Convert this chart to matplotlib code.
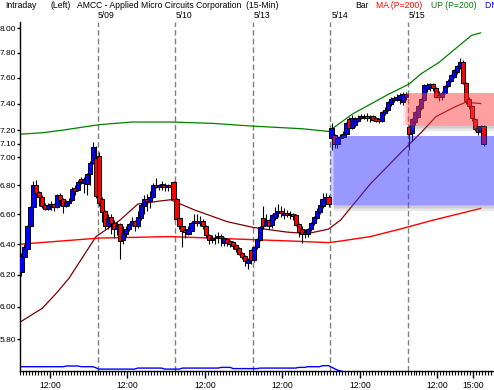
import numpy as np
import matplotlib
matplotlib.use("Agg")
import matplotlib.pyplot as plt
from matplotlib.patches import Rectangle
from matplotlib.ticker import FixedLocator, NullLocator, FixedFormatter

plt.rcParams['font.family'] = ['Liberation Sans', 'DejaVu Sans']

# 15-min bars, 26 per session, six sessions (5/08 .. 5/15)
opens = [
    6.22, 6.32, 6.37, 6.52, 6.65, 6.80, 6.75, 6.72, 6.66, 6.64, 6.66, 6.67, 6.65,
    6.73, 6.70, 6.66, 6.68, 6.70, 6.78, 6.77, 6.84, 6.82, 6.81, 6.88, 6.96, 6.99,
    7.01, 6.70, 6.62, 6.52, 6.58, 6.54, 6.50, 6.53, 6.43, 6.47, 6.50, 6.53, 6.55,
    6.52, 6.58, 6.66, 6.70, 6.69, 6.72, 6.80, 6.79, 6.80, 6.80, 6.79, 6.80, 6.82,
    6.70, 6.57, 6.52, 6.49, 6.47, 6.49, 6.54, 6.55, 6.54, 6.55, 6.52, 6.46, 6.43,
    6.44, 6.44, 6.45, 6.41, 6.43, 6.42, 6.41, 6.39, 6.37, 6.34, 6.32, 6.28, 6.36,
    6.30, 6.38, 6.43, 6.57, 6.53, 6.56, 6.53, 6.58, 6.61, 6.62, 6.60, 6.61, 6.60,
    6.60, 6.59, 6.53, 6.50, 6.47, 6.47, 6.50, 6.54, 6.58, 6.62, 6.66, 6.69, 6.72,
    7.14, 7.16, 7.10, 7.14, 7.15, 7.17, 7.28, 7.22, 7.24, 7.27, 7.29, 7.30, 7.30,
    7.29, 7.30, 7.29, 7.28, 7.27, 7.33, 7.35, 7.40, 7.43, 7.43, 7.44, 7.41, 7.45,
    7.22, 7.18, 7.26, 7.30, 7.37, 7.43, 7.51, 7.53, 7.55, 7.52, 7.46, 7.45, 7.48,
    7.54, 7.58, 7.61, 7.65, 7.68, 7.72, 7.56, 7.43, 7.38, 7.28, 7.21, 7.19, 7.23,
]
highs = [
    6.34, 6.40, 6.53, 6.66, 6.83, 6.84, 6.76, 6.73, 6.68, 6.68, 6.69, 6.68, 6.74,
    6.75, 6.71, 6.70, 6.71, 6.79, 6.80, 6.84, 6.86, 6.86, 6.89, 6.97, 7.11, 7.08,
    7.04, 6.72, 6.63, 6.60, 6.60, 6.56, 6.55, 6.54, 6.52, 6.52, 6.54, 6.58, 6.56,
    6.62, 6.68, 6.73, 6.74, 6.76, 6.82, 6.85, 6.81, 6.83, 6.82, 6.81, 6.81, 6.83,
    6.71, 6.58, 6.53, 6.51, 6.52, 6.55, 6.60, 6.60, 6.59, 6.57, 6.53, 6.47, 6.46,
    6.47, 6.48, 6.47, 6.45, 6.44, 6.43, 6.42, 6.40, 6.38, 6.35, 6.33, 6.31, 6.37,
    6.39, 6.44, 6.52, 6.66, 6.60, 6.57, 6.60, 6.65, 6.67, 6.66, 6.64, 6.63, 6.62,
    6.61, 6.60, 6.54, 6.52, 6.50, 6.51, 6.55, 6.59, 6.64, 6.68, 6.75, 6.75, 6.73,
    7.25, 7.17, 7.16, 7.17, 7.19, 7.26, 7.30, 7.31, 7.30, 7.31, 7.32, 7.32, 7.33,
    7.31, 7.31, 7.30, 7.29, 7.34, 7.37, 7.42, 7.45, 7.46, 7.47, 7.48, 7.49, 7.49,
    7.24, 7.29, 7.34, 7.39, 7.44, 7.55, 7.56, 7.56, 7.56, 7.53, 7.50, 7.50, 7.54,
    7.59, 7.63, 7.67, 7.70, 7.76, 7.74, 7.57, 7.45, 7.39, 7.29, 7.23, 7.24, 7.24,
]
lows = [
    6.19, 6.31, 6.36, 6.51, 6.62, 6.72, 6.66, 6.64, 6.63, 6.63, 6.63, 6.62, 6.64,
    6.66, 6.61, 6.65, 6.66, 6.69, 6.73, 6.76, 6.81, 6.75, 6.73, 6.80, 6.95, 6.71,
    6.66, 6.55, 6.50, 6.50, 6.47, 6.44, 6.46, 6.30, 6.40, 6.45, 6.49, 6.52, 6.49,
    6.51, 6.56, 6.60, 6.62, 6.64, 6.71, 6.78, 6.77, 6.77, 6.76, 6.76, 6.76, 6.70,
    6.56, 6.50, 6.38, 6.44, 6.46, 6.48, 6.52, 6.52, 6.52, 6.50, 6.44, 6.40, 6.41,
    6.40, 6.41, 6.39, 6.39, 6.39, 6.38, 6.37, 6.35, 6.33, 6.30, 6.26, 6.24, 6.27,
    6.28, 6.37, 6.42, 6.50, 6.52, 6.50, 6.51, 6.56, 6.58, 6.58, 6.57, 6.58, 6.57,
    6.56, 6.52, 6.45, 6.41, 6.44, 6.45, 6.49, 6.53, 6.57, 6.60, 6.64, 6.67, 6.65,
    7.05, 7.07, 7.07, 7.12, 7.14, 7.16, 7.20, 7.21, 7.22, 7.26, 7.28, 7.28, 7.27,
    7.26, 7.27, 7.26, 7.25, 7.26, 7.31, 7.34, 7.38, 7.41, 7.42, 7.40, 7.39, 7.43,
    7.05, 7.12, 7.24, 7.29, 7.35, 7.42, 7.49, 7.50, 7.50, 7.44, 7.42, 7.43, 7.47,
    7.53, 7.57, 7.60, 7.63, 7.67, 7.55, 7.40, 7.36, 7.27, 7.19, 7.16, 7.17, 7.08,
]
closes = [
    6.32, 6.38, 6.52, 6.65, 6.80, 6.75, 6.72, 6.66, 6.64, 6.66, 6.67, 6.65, 6.73,
    6.70, 6.66, 6.68, 6.69, 6.77, 6.76, 6.82, 6.83, 6.84, 6.88, 6.96, 7.07, 6.73,
    6.68, 6.62, 6.52, 6.57, 6.54, 6.50, 6.52, 6.42, 6.47, 6.50, 6.53, 6.55, 6.52,
    6.58, 6.66, 6.70, 6.69, 6.72, 6.80, 6.79, 6.80, 6.81, 6.79, 6.80, 6.79, 6.71,
    6.57, 6.52, 6.49, 6.48, 6.50, 6.54, 6.55, 6.54, 6.55, 6.52, 6.46, 6.43, 6.44,
    6.44, 6.45, 6.44, 6.44, 6.41, 6.40, 6.39, 6.37, 6.34, 6.32, 6.29, 6.30, 6.30,
    6.38, 6.43, 6.51, 6.52, 6.56, 6.52, 6.59, 6.61, 6.62, 6.61, 6.61, 6.60, 6.60,
    6.59, 6.53, 6.48, 6.47, 6.48, 6.50, 6.54, 6.58, 6.62, 6.66, 6.70, 6.72, 6.67,
    7.21, 7.10, 7.14, 7.15, 7.17, 7.25, 7.22, 7.29, 7.28, 7.29, 7.30, 7.30, 7.29,
    7.29, 7.28, 7.27, 7.27, 7.33, 7.35, 7.41, 7.43, 7.44, 7.45, 7.46, 7.47, 7.47,
    7.17, 7.28, 7.33, 7.38, 7.43, 7.54, 7.54, 7.55, 7.52, 7.45, 7.45, 7.48, 7.53,
    7.57, 7.62, 7.66, 7.69, 7.72, 7.56, 7.42, 7.38, 7.29, 7.21, 7.19, 7.23, 7.10,
]

# indicator lines read at bar positions
up_x = [0, 7, 14, 26, 37, 50, 64, 77, 94, 103, 111, 123, 130, 134, 140, 144, 147, 151, 154]
up_y = [7.17, 7.18, 7.20, 7.24, 7.26, 7.26, 7.25, 7.23, 7.21, 7.19, 7.32, 7.47, 7.55, 7.63, 7.72, 7.80, 7.86, 7.94, 7.96]
ma_x = [0, 13, 26, 50, 77, 91, 103, 107, 117, 127, 138, 154]
ma_y = [6.40, 6.42, 6.44, 6.45, 6.43, 6.42, 6.41, 6.42, 6.45, 6.50, 6.56, 6.64]
slow_x = [0, 7, 12, 16, 25, 33, 39, 46, 50, 58, 69, 78, 89, 96, 103, 107, 117, 128, 134, 139, 145, 149, 154]
slow_y = [5.91, 5.99, 6.09, 6.18, 6.45, 6.56, 6.67, 6.69, 6.70, 6.63, 6.55, 6.51, 6.48, 6.47, 6.50, 6.56, 6.81, 7.05, 7.18, 7.30, 7.37, 7.41, 7.40]
dn_x = [0, 14, 15, 19, 20, 24, 26, 38, 39, 47, 48, 53, 54, 66, 67, 70, 71, 79, 80, 92, 93, 95, 96, 100, 101, 103, 106, 112]
dn_y = [5.639, 5.639, 5.643, 5.643, 5.639, 5.639, 5.625, 5.625, 5.631, 5.631, 5.625, 5.625, 5.631, 5.631, 5.635, 5.635, 5.628, 5.628, 5.631, 5.631, 5.635, 5.635, 5.639, 5.639, 5.645, 5.645, 5.619, 5.59]

day_labels = ['5/09', '5/10', '5/13', '5/14', '5/15']
y_ticks = [8.00, 7.80, 7.60, 7.40, 7.20, 7.10, 7.00, 6.80, 6.60, 6.40, 6.20, 6.00, 5.80]
blue_box = [103.4, 6.665, 7.155]   # left bar, bottom, top
pink_box = [128.1, 7.24, 7.48]
bars_per_day = 26

W, H = 494, 390
fig = plt.figure(figsize=(W / 100, H / 100), dpi=100)
ax = fig.add_axes([20 / W, (H - 371) / H, (W - 20) / W, (371 - 22) / H])

ax.set_yscale('log')
ax.set_ylim(5.614, 8.05)
ax.set_xlim((20 - 19.3) / 2.996, (W - 19.3) / 2.996)

n = len(closes)
idx = np.arange(n)
o = np.array(opens)
c = np.array(closes)

# day separators
for d in range(1, 6):
    ax.axvline(d * bars_per_day - 0.5, color='#808080', lw=1, ls=(0, (4, 2.2)), zorder=1)

ax.plot(slow_x, slow_y, color='#800000', lw=0.9, zorder=2)
ax.plot(ma_x, ma_y, color='#ff0000', lw=1.0, zorder=2)
ax.plot(up_x, up_y, color='#008000', lw=0.9, zorder=2)
ax.plot(dn_x, dn_y, color='#0000ff', lw=1.0, zorder=2)

ax.vlines(idx, lows, highs, color='black', lw=0.8, zorder=3)
colors = np.where(c >= o, '#0000ff', '#ff0000')
ax.bar(idx, np.abs(c - o) + 0.004, bottom=np.minimum(o, c) - 0.002, width=1.4,
       color=colors, edgecolor='black', linewidth=0.7, zorder=4)

# translucent zones with soft left edge and shadow below
for box, fc in [(blue_box, (0.2, 0.2, 1.0)), (pink_box, (1.0, 0.25, 0.25))]:
    x0, lo, hi = box
    ax.add_patch(Rectangle((x0 + 1.5, lo), 170, hi - lo, facecolor=fc, alpha=0.5,
                           lw=0, zorder=5))
    for k in range(3):
        ax.add_patch(Rectangle((x0 + 0.5 * k, lo), 0.5, hi - lo, facecolor=fc,
                               alpha=0.12 + 0.12 * k, lw=0, zorder=5))
    for k in range(4):
        ax.add_patch(Rectangle((x0 + 1.5, lo * (1 - 0.0015 * (k + 1))), 170,
                               lo * 0.0015, facecolor='#707070',
                               alpha=0.45 - 0.1 * k, lw=0, zorder=5))

for s in ['top', 'right']:
    ax.spines[s].set_visible(False)
ax.spines['left'].set_linewidth(1)
ax.spines['bottom'].set_linewidth(1)

ax.yaxis.set_major_locator(FixedLocator(y_ticks))
ax.yaxis.set_major_formatter(FixedFormatter(['%.2f' % v for v in y_ticks]))
ax.yaxis.set_minor_locator(NullLocator())
ax.tick_params(axis='y', which='major', length=2.5, width=1, pad=0.5, labelsize=6)

xt = [d * bars_per_day + 9.5 for d in range(6)] + [5 * bars_per_day + 21.5]
ax.set_xticks(xt)
ax.set_xticklabels(['12:00'] * 6 + ['15:00'])
ax.set_xticks(np.arange(-0.5, 159, 1), minor=True)
ax.tick_params(axis='x', which='major', length=5, width=1, pad=2, labelsize=6.2)
ax.tick_params(axis='x', which='minor', length=3, width=0.8)

def ftext(x, y, s, color='black', ha='left'):
    fig.text(x / W, 1 - y / H, s, color=color, fontsize=6.2, ha=ha, va='center')

ftext(5, 6, 'Intraday')
ftext(50, 6, '(Left)')
ftext(77, 6, 'AMCC - Applied Micro Circuits Corporation  (15-Min)')
ftext(355, 6, 'Bar')
ftext(376, 6, 'MA (P=200)', color='#ff0000')
ftext(431, 6, 'UP (P=200)', color='#008000')
ftext(485, 6, 'DN (P=200)', color='#0000ff')
for d, lab in enumerate(day_labels):
    ftext(97.5 + 77.9 * d, 15.5, lab)

fig.savefig('out.png', dpi=100)
